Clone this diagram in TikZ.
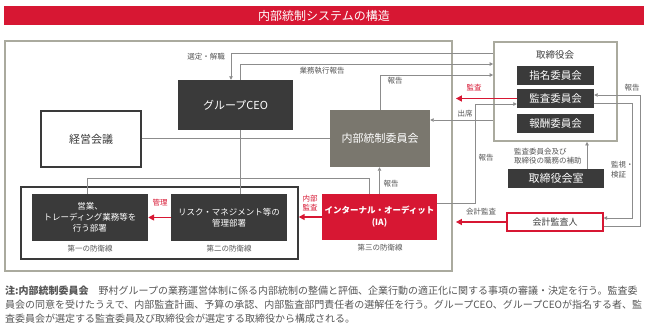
\documentclass[tikz,border=0pt]{standalone}
\usepackage{fontspec}
\setmainfont{Noto Sans CJK JP}
\usepackage{tikz}
\usetikzlibrary{arrows.meta, positioning, calc}
\usepackage{xcolor}
\definecolor{iared}{RGB}{215,23,51}
\definecolor{boxdark}{RGB}{58,58,58}
\definecolor{boxgrey}{RGB}{122,119,110}
\definecolor{framegrey}{RGB}{170,170,158}
\definecolor{linegrey}{RGB}{140,140,140}
\definecolor{labelgrey}{RGB}{85,85,85}

\begin{document}
\begin{tikzpicture}[
    x=1pt, y=-1pt,
    outerframe/.style={rectangle, draw=framegrey, line width=1.8pt, inner sep=0pt},
    darkbox/.style={rectangle, fill=boxdark, text=white, align=center, inner sep=0pt, font=\fontsize{8.5}{11}\selectfont},
    cmtbox/.style={rectangle, fill=boxdark, text=white, minimum width=77pt, minimum height=19pt, inner sep=0pt, font=\fontsize{10.5}{12}\selectfont},
    lbl/.style={inner sep=0pt, align=left, text=labelgrey, font=\fontsize{7.5}{9.5}\selectfont},
    redlbl/.style={inner sep=0pt, align=center, text=iared, font=\fontsize{7.5}{9.5}\selectfont},
    line/.style={draw=linegrey, line width=0.8pt},
    arr/.style={line, -{Triangle[length=3.5pt, width=3.5pt]}},
    redarr/.style={draw=iared, line width=1.8pt, -{Triangle[length=6pt, width=6pt]}}
]
    \useasboundingbox (0,0) rectangle (648,333);

    % title bar
    \node (title) [rectangle, fill=iared, text=white, minimum width=640pt, minimum height=19pt, inner sep=0pt, font=\fontsize{12}{14}\selectfont] at (324,15.5) {内部統制システムの構造};

    % frames
    \node (group) [outerframe, minimum width=447pt, minimum height=230pt] at (228.5,156) {};
    \node (board) [outerframe, minimum width=123pt, minimum height=99pt] at (555.5,91.5) {};
    \node (lines) [rectangle, draw=boxdark, line width=1.4pt, minimum width=277pt, minimum height=72pt, inner sep=0pt] at (159.5,223) {};

    % boxes
    \node (ceo) [darkbox, minimum width=115pt, minimum height=50pt, font=\fontsize{11}{13}\selectfont] at (235.5,105) {グループCEO};
    \node (keiei) [rectangle, draw=boxdark, line width=1.2pt, fill=white, minimum width=100pt, minimum height=56pt, inner sep=0pt, font=\fontsize{11}{13}\selectfont, text=boxdark] at (91,139) {経営会議};
    \node (icc) [rectangle, fill=boxgrey, text=white, minimum width=100pt, minimum height=57pt, inner sep=0pt, font=\fontsize{11}{13}\selectfont] at (380,138.5) {内部統制委員会};
    \node (boardlbl) [inner sep=0pt, text=boxdark, font=\fontsize{9.5}{11}\selectfont] at (555,55) {取締役会};
    \node (nomi) [cmtbox] at (555.5,75.5) {指名委員会};
    \node (kansa) [cmtbox] at (555.5,98.5) {監査委員会};
    \node (comp) [cmtbox] at (555.5,123.5) {報酬委員会};
    \node (boardroom) [cmtbox, minimum width=96pt, font=\fontsize{11}{13}\selectfont] at (556,178.5) {取締役会室};
    \node (auditor) [rectangle, draw=iared, line width=1.2pt, fill=white, minimum width=96pt, minimum height=18pt, inner sep=0pt, text=boxdark, font=\fontsize{9}{11}\selectfont] at (555,222) {会計監査人};
    \node (ia) [rectangle, fill=iared, text=white, minimum width=115pt, minimum height=46pt, align=center, inner sep=0pt, font=\fontsize{8.5}{12}\selectfont\bfseries] at (379.5,217) {インターナル・オーディット\\(IA)};
    \node (sales) [darkbox, minimum width=116pt, minimum height=47pt] at (90,217.5) {営業、\\トレーディング業務等を\\行う部署};
    \node (risk) [darkbox, minimum width=116pt, minimum height=47pt] at (229,217.5) {リスク・マネジメント等の\\管理部署};

    % line labels
    \node (firstl) [lbl] at (90,249) {第一の防衛線};
    \node (secondl) [lbl] at (229,249) {第二の防衛線};
    \node (thirdl) [lbl] at (380,248) {第三の防衛線};
    \node (selectl) [lbl] at (206,57) {選定・解職};
    \node (execl) [lbl] at (322,71) {業務執行報告};
    \node (rep1) [lbl] at (395,81) {報告};
    \node (attl) [lbl] at (465,114) {出席};
    \node (kansal) [redlbl] at (474,88) {監査};
    \node (rep2) [lbl] at (632,88) {報告};
    \node (rep3) [lbl] at (486,158) {報告};
    \node (assistl) [lbl, anchor=west] at (514,156) {監査委員会及び\\取締役の職務の補助};
    \node (monl) [lbl, anchor=west] at (611,169.5) {監視・\\検証};
    \node (accl) [lbl] at (481,212) {会計監査};
    \node (rep4) [lbl] at (391,184) {報告};
    \node (iauditl) [redlbl] at (310,203) {内部\\監査};
    \node (mgmtl) [redlbl] at (160,203) {管理};

    % connectors
    \draw[arr] (board.west |- 0,53) -| ([xshift=-4.5pt]ceo.north);
    \draw[arr] ([xshift=4.5pt]ceo.north) |- (board.west |- 0,64);
    \draw[arr] (icc.north) |- (board.west |- 0,75);
    \draw[line] (keiei.east |- icc.west) -- (icc.west);
    \draw[line] ([xshift=4.5pt]ceo.south) -- ([xshift=4.5pt]ceo.south |- risk.north);
    \draw[arr] (board.west |- 0,120) -- (icc.east |- 0,120);
    \draw[redarr] (kansa.west) -- ([xshift=3pt]group.east |- kansa.west);
    \draw[arr] (ia.east |- 0,203) -| (475,104) -- (kansa.west |- 0,104);
    \draw[arr] ([xshift=31pt]boardroom.north) -- ([xshift=31pt]boardroom.north |- board.south);
    \draw[arr] (kansa.east |- 0,103) -| (632,218) -- (auditor.east |- 0,218);
    \draw[arr] (auditor.east |- 0,226) -| (640,95) -- (kansa.east |- 0,95);
    \draw[redarr] (auditor.west) -- ([xshift=3pt]group.east |- auditor.west);
    \draw[arr] (ia.north) -- (ia.north |- icc.south);
    \draw[line] ([xshift=-10.5pt]ia.north) |- ([xshift=-3pt]sales.north |- 0,178) -- ([xshift=-3pt]sales.north);
    \draw[redarr] (risk.west) -- (sales.east);
    \draw[redarr] (ia.west) -- (lines.east |- ia.west);

    % note
    \node (note) [anchor=north west, inner sep=0pt, align=left, text=labelgrey, font=\fontsize{10}{13.7}\selectfont] at (5,286) {{\bfseries 注:内部統制委員会}　野村グループの業務運営体制に係る内部統制の整備と評価、企業行動の適正化に関する事項の審議・決定を行う。監査委\\員会の同意を受けたうえで、内部監査計画、予算の承認、内部監査部門責任者の選解任を行う。グループCEO、グループCEOが指名する者、監\\査委員会が選定する監査委員及び取締役会が選定する取締役から構成される。};
\end{tikzpicture}
\end{document}
